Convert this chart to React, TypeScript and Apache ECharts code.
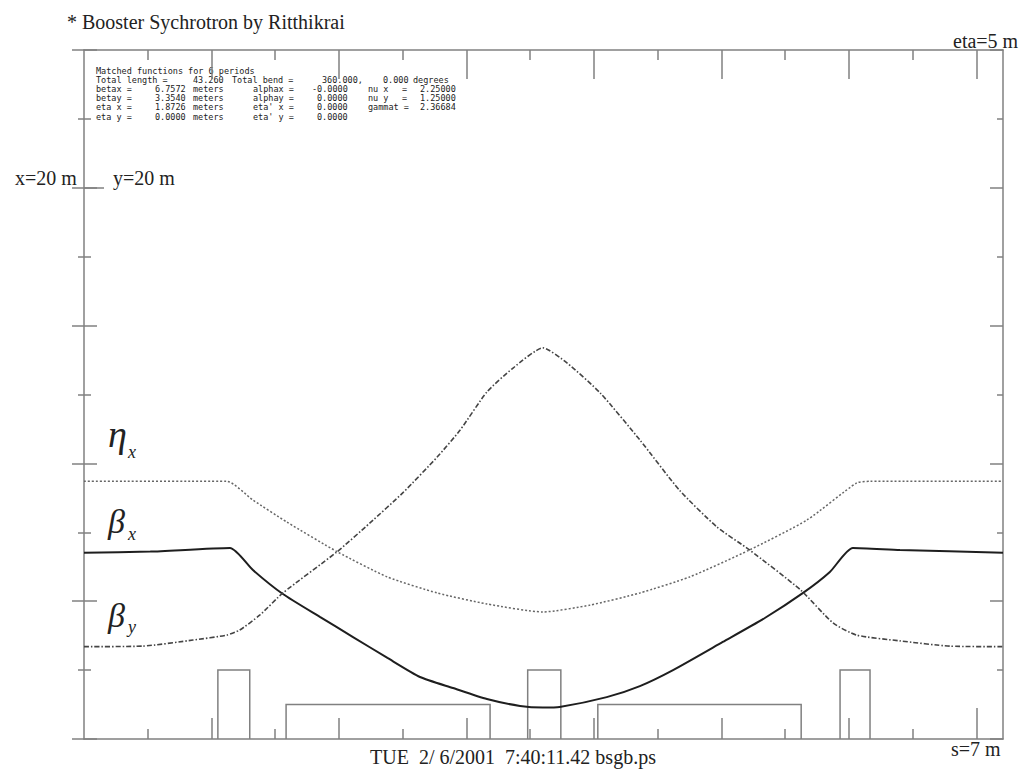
import React, { useEffect, useRef } from "react";
import * as echarts from "echarts";

// ---- data (s in metres) ----
const S_MAX = 7.208;

const sBetaX = [0, 0.52, 1.145, 1.325, 1.56, 1.85, 2.11, 2.38, 2.635, 2.894, 3.16, 3.42, 3.6, 3.73, 4.1, 4.36, 4.62, 5.01, 5.34, 5.64, 5.85, 6.03, 6.4, 7.208];
const betaX = [6.76, 6.8, 6.93, 6.13, 5.26, 4.43, 3.7, 2.94, 2.25, 1.85, 1.45, 1.2, 1.14, 1.16, 1.52, 1.92, 2.5, 3.52, 4.39, 5.3, 6.06, 6.93, 6.86, 6.76];

const sBetaY = [0, 0.46, 0.855, 1.12, 1.22, 1.38, 1.56, 1.984, 2.243, 2.5, 2.77, 2.95, 3.16, 3.365, 3.6, 3.79, 4.05, 4.36, 4.67, 4.965, 5.22, 5.62, 5.875, 6.06, 6.4, 6.79, 7.208];
const betaY = [3.35, 3.37, 3.59, 3.77, 3.95, 4.5, 5.3, 6.79, 7.84, 8.93, 10.23, 11.21, 12.59, 13.46, 14.19, 13.64, 12.55, 10.85, 9.03, 7.69, 6.86, 5.41, 4.21, 3.77, 3.56, 3.37, 3.35];

const sEta = [0, 1.12, 1.325, 1.59, 1.99, 2.38, 2.77, 3.16, 3.6, 3.97, 4.36, 4.75, 5.22, 5.67, 6.06, 6.165, 7.208];
const etaX = [1.87, 1.87, 1.734, 1.575, 1.357, 1.176, 1.06, 0.98, 0.922, 0.972, 1.06, 1.176, 1.372, 1.589, 1.858, 1.87, 1.87];

// lattice elements (quadrupoles / dipoles)
const elemStart = [1.05, 1.585, 3.48, 4.03, 5.93];
const elemEnd = [1.3, 3.185, 3.74, 5.625, 6.165];
const elemHeight = [2.5, 1.25, 2.5, 1.25, 2.5];

// tick values
const sMajor = [1, 2, 3, 4, 5, 6];
const sMajorTop = [1, 2, 3, 4, 5, 6, 7];
const sMinor = [0.5, 1.5, 2.5, 3.5, 4.5, 5.5, 6.5];
const sMark = [7];
const betaMark = [20];

// header text
const infoRows: [string, number][][] = [
  [["Matched functions for 6 periods", 96]],
  [["Total length =", 96], ["43.260", 193], ["Total bend =", 232], ["360.000,", 322], ["0.000", 383], ["degrees", 413]],
  [["betax =", 96], ["6.7572", 155], ["meters", 193], ["alphax =", 253], ["-0.0000", 312], ["nu x", 368], ["=", 402], ["2.25000", 420]],
  [["betay =", 96], ["3.3540", 155], ["meters", 193], ["alphay =", 253], ["0.0000", 317], ["nu y", 368], ["=", 402], ["1.25000", 420]],
  [["eta x =", 96], ["1.8726", 155], ["meters", 193], ["eta' x =", 253], ["0.0000", 317], ["gammat =", 368], ["2.36684", 420]],
  [["eta y =", 96], ["0.0000", 155], ["meters", 193], ["eta' y =", 253], ["0.0000", 317]],
];
const infoRowY = [71, 80, 89, 98, 107, 117];

export default function App() {
  const ref = useRef<HTMLDivElement>(null);
  useEffect(() => {
    const chart = echarts.init(ref.current!, null, { renderer: "svg" });
    const serif = "'Liberation Serif', 'Times New Roman', serif";
    const mono = "'DejaVu Sans Mono', 'Liberation Mono', monospace";
    const axisColor = "#808080";
    const lw = 1.5;

    const xBase = (pos: string, showLine: boolean, tick: any) => ({
      type: "value",
      position: pos,
      min: 0,
      max: S_MAX,
      axisLine: { show: showLine, onZero: false, lineStyle: { color: axisColor, width: lw } },
      axisLabel: { show: false },
      splitLine: { show: false },
      axisTick: { show: true, inside: true, lineStyle: { color: axisColor, width: lw }, ...tick },
    });

    const infoGraphics: any[] = [];
    infoRows.forEach((row, r) => {
      row.forEach(([t, x]) => {
        infoGraphics.push({
          type: "text",
          x,
          y: infoRowY[r],
          style: { text: t, fontFamily: mono, fontSize: 8.5, fill: "#222", align: "left", verticalAlign: "middle" },
        });
      });
    });

    const txt = (t: string, x: number, y: number, size: number, extra: any = {}) => ({
      type: "text",
      x,
      y,
      style: { text: t, fontFamily: serif, fontSize: size, fill: "#222", align: "left", verticalAlign: "middle", ...extra },
    });

    chart.setOption({
      animation: false,
      backgroundColor: "#ffffff",
      grid: { left: 84, right: 26, top: 50, bottom: 30, containLabel: false },
      xAxis: [
        xBase("bottom", true, { length: 21, customValues: sMajor }),
        xBase("bottom", false, { length: 10, customValues: sMinor }),
        xBase("bottom", false, { length: 31, customValues: sMark }),
        xBase("top", true, { length: 29, customValues: sMajorTop }),
        xBase("top", false, { length: 10, customValues: sMinor }),
      ],
      yAxis: [
        {
          type: "value", position: "left", min: 0, max: 25, interval: 5,
          axisLine: { show: true, onZero: false, lineStyle: { color: axisColor, width: lw } },
          axisLabel: { show: false }, splitLine: { show: false },
          axisTick: { show: true, inside: true, length: 13, lineStyle: { color: axisColor, width: lw } },
          minorTick: { show: true, splitNumber: 2, length: 7, lineStyle: { color: axisColor, width: lw } },
        },
        {
          type: "value", position: "left", min: 0, max: 25, interval: 5,
          axisLine: { show: false, onZero: false },
          axisLabel: { show: false }, splitLine: { show: false },
          axisTick: { show: true, inside: false, length: 12, lineStyle: { color: axisColor, width: lw } },
          minorTick: { show: true, splitNumber: 2, length: 6, lineStyle: { color: axisColor, width: lw } },
        },
        {
          type: "value", position: "left", min: 0, max: 25,
          axisLine: { show: false, onZero: false },
          axisLabel: { show: false }, splitLine: { show: false },
          axisTick: { show: true, inside: true, length: 20, customValues: betaMark, lineStyle: { color: axisColor, width: lw } },
        },
        {
          type: "value", position: "right", min: 0, max: 5, interval: 1,
          axisLine: { show: true, onZero: false, lineStyle: { color: axisColor, width: lw } },
          axisLabel: { show: false }, splitLine: { show: false },
          axisTick: { show: true, inside: true, length: 13, lineStyle: { color: axisColor, width: lw } },
          minorTick: { show: true, splitNumber: 2, length: 6, lineStyle: { color: axisColor, width: lw } },
        },
      ],
      series: [
        {
          type: "custom",
          name: "elements",
          xAxisIndex: 0,
          yAxisIndex: 0,
          data: elemStart.map((s, i) => [s, elemEnd[i], elemHeight[i]]),
          encode: { x: [0, 1], y: 2 },
          renderItem: (_p: any, api: any) => {
            const a = api.coord([api.value(0), 0]);
            const b = api.coord([api.value(0), api.value(2)]);
            const c = api.coord([api.value(1), api.value(2)]);
            const d = api.coord([api.value(1), 0]);
            return {
              type: "polyline",
              shape: { points: [a, b, c, d] },
              style: { fill: "none", stroke: axisColor, lineWidth: lw },
            };
          },
          silent: true,
        },
        {
          type: "line",
          name: "betaX",
          xAxisIndex: 0,
          yAxisIndex: 0,
          data: sBetaX.map((s, i) => [s, betaX[i]]),
          symbol: "none",
          smooth: 0.2,
          lineStyle: { color: "#1e1e1e", width: 2 },
        },
        {
          type: "line",
          name: "betaY",
          xAxisIndex: 0,
          yAxisIndex: 0,
          data: sBetaY.map((s, i) => [s, betaY[i]]),
          symbol: "none",
          smooth: 0.2,
          lineStyle: { color: "#444", width: 1.6, type: [5, 2, 1.5, 2] },
        },
        {
          type: "line",
          name: "etaX",
          xAxisIndex: 0,
          yAxisIndex: 3,
          data: sEta.map((s, i) => [s, etaX[i]]),
          symbol: "none",
          smooth: 0.2,
          lineStyle: { color: "#666", width: 1.5, type: [2, 2] },
        },
      ],
      graphic: [
        txt("* Booster Sychrotron by Ritthikrai", 67, 22, 20),
        txt("x=20 m", 15, 178, 20),
        txt("y=20 m", 113, 178, 20),
        txt("eta=5 m", 953, 41, 20),
        txt("s=7 m", 951, 749, 20),
        txt("TUE  2/ 6/2001  7:40:11.42 bsgb.ps", 370, 757, 20),
        txt("η", 108, 434, 38, { fontStyle: "italic" }),
        txt("x", 128, 452, 18, { fontStyle: "italic" }),
        txt("β", 108, 521, 34, { fontStyle: "italic" }),
        txt("x", 128, 534, 18, { fontStyle: "italic" }),
        txt("β", 108, 615, 34, { fontStyle: "italic" }),
        txt("y", 128, 627, 18, { fontStyle: "italic" }),
        ...infoGraphics,
      ],
    });
    return () => chart.dispose();
  }, []);
  return <div ref={ref} style={{ position: "fixed", left: 0, top: 0, width: 1029, height: 769, background: "#fff" }} />;
}
